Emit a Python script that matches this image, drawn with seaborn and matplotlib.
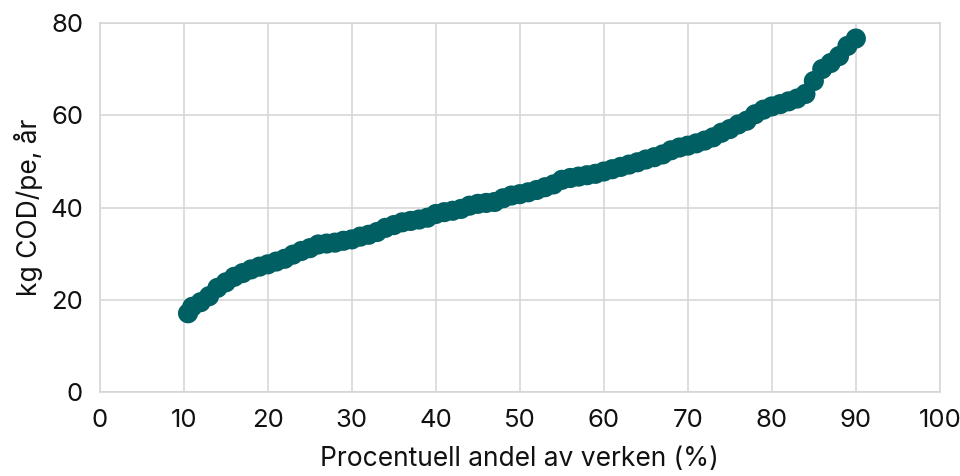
import pandas as pd
import matplotlib
matplotlib.use('Agg')
import matplotlib.pyplot as plt
import seaborn as sns

# share of plants (%) vs kg COD per pe and year, sorted
andel = [10.5, 11, 12, 13, 14, 15, 16, 17, 18, 19, 20,
         21, 22, 23, 24, 25, 26, 27, 28, 29, 30,
         31, 32, 33, 34, 35, 36, 37, 38, 39, 40,
         41, 42, 43, 44, 45, 46, 47, 48, 49, 50,
         51, 52, 53, 54, 55, 56, 57, 58, 59, 60,
         61, 62, 63, 64, 65, 66, 67, 68, 69, 70,
         71, 72, 73, 74, 75, 76, 77, 78, 79, 80,
         81, 82, 83, 84, 85, 86, 87, 88, 89, 90]
cod = [17.1, 18.5, 19.5, 20.8, 22.6, 23.8, 25.0, 25.8, 26.6, 27.2, 27.7,
       28.3, 28.9, 29.8, 30.6, 31.2, 32.0, 32.2, 32.4, 32.8, 33.1,
       33.7, 34.1, 34.7, 35.6, 36.2, 36.8, 37.1, 37.4, 37.8, 38.6,
       39.0, 39.3, 39.7, 40.4, 40.8, 41.0, 41.2, 42.0, 42.6, 42.9,
       43.3, 43.8, 44.4, 45.0, 46.0, 46.4, 46.7, 47.0, 47.3, 47.8,
       48.3, 48.8, 49.3, 49.8, 50.4, 50.9, 51.5, 52.4, 53.0, 53.4,
       53.9, 54.5, 55.2, 56.2, 57.0, 58.0, 58.8, 60.2, 61.2, 61.9,
       62.4, 63.0, 63.6, 64.6, 67.4, 70.0, 71.3, 72.8, 75.0, 76.6]

xticks = [0, 10, 20, 30, 40, 50, 60, 70, 80, 90, 100]
yticks = [0, 20, 40, 60, 80]

sns.set_style('white')
plt.rcParams['font.family'] = ['Inter', 'DejaVu Sans']

df = pd.DataFrame({'andel': andel, 'cod': cod})

fig, ax = plt.subplots(figsize=(9.6, 4.76), dpi=100)
fig.subplots_adjust(left=0.104, right=0.979, top=0.952, bottom=0.176)

sns.scatterplot(data=df, x='andel', y='cod', ax=ax, s=210, color='#005F63',
                edgecolor='none', linewidth=0, zorder=3, legend=False)

ax.set_xlim(0, 100)
ax.set_ylim(0, 80)
ax.set_xticks(xticks)
ax.set_yticks(yticks)
ax.grid(True, color='#D4D4D4', linewidth=1.1)
for s in ax.spines.values():
    s.set_color('#D4D4D4')
    s.set_linewidth(1.1)
ax.tick_params(length=0, labelsize=18.5, colors='#111111', pad=12)
ax.set_xlabel('Procentuell andel av verken (%)', fontsize=19, labelpad=10, color='#111111')
ax.set_ylabel('kg COD/pe, år', fontsize=19, labelpad=5, color='#111111')

plt.savefig('out.png', dpi=100)
